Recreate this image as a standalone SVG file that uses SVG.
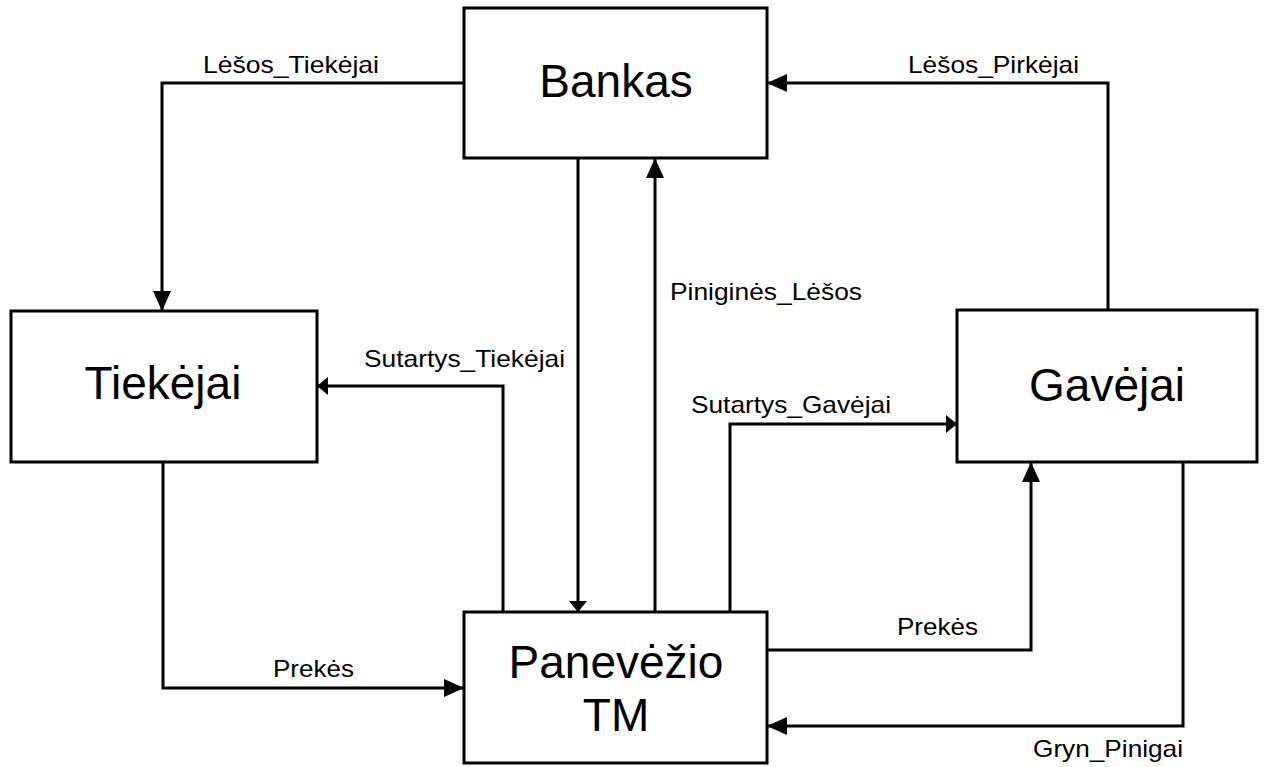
<svg xmlns="http://www.w3.org/2000/svg" width="1268" height="767" viewBox="0 0 1268 767">
  <style>
    .box { fill: #ffffff; stroke: #000000; stroke-width: 3; }
    .title { font-family: "Liberation Sans", Arial, sans-serif; font-size: 46px; fill: #000000; text-anchor: middle; }
    .flow { fill: none; stroke: #000000; stroke-width: 3; stroke-linejoin: miter; }
    .big { marker-end: url(#arrowBig); }
    .small { marker-end: url(#arrowSmall); }
    .label { font-family: "Liberation Sans", Arial, sans-serif; font-size: 24px; fill: #000000; }
  </style>
  <defs>
    <marker id="arrowBig" viewBox="0 0 20 18" refX="20" refY="9" markerWidth="20" markerHeight="18" markerUnits="userSpaceOnUse" orient="auto">
      <path d="M0,0 L20,9 L0,18 Z" fill="#000000"/>
    </marker>
    <marker id="arrowSmall" viewBox="0 0 11 18" refX="11" refY="9" markerWidth="11" markerHeight="18" markerUnits="userSpaceOnUse" orient="auto">
      <path d="M0,0 L11,9 L0,18 Z" fill="#000000"/>
    </marker>
  </defs>
  <rect width="1268" height="767" fill="#ffffff"/>

  <!-- connectors -->
  <g id="connectors">
    <path class="flow big" d="M464,83 H162 V311"/>
    <path class="flow big" d="M1108,310 V83 H767"/>
    <path class="flow small" d="M578,158 V612"/>
    <path class="flow big" d="M655,612 V158"/>
    <path class="flow small" d="M503,612 V386 H317"/>
    <path class="flow small" d="M730,612 V424 H957"/>
    <path class="flow big" d="M163,462 V688 H464"/>
    <path class="flow big" d="M767,650 H1031 V462"/>
    <path class="flow big" d="M1183,462 V726 H767"/>

    <text class="label" x="203" y="73" textLength="176" lengthAdjust="spacingAndGlyphs">Lėšos_Tiekėjai</text>
    <text class="label" x="908" y="73" textLength="171" lengthAdjust="spacingAndGlyphs">Lėšos_Pirkėjai</text>
    <text class="label" x="670" y="300" textLength="192" lengthAdjust="spacingAndGlyphs">Piniginės_Lėšos</text>
    <text class="label" x="364" y="367" textLength="201" lengthAdjust="spacingAndGlyphs">Sutartys_Tiekėjai</text>
    <text class="label" x="691" y="413" textLength="200" lengthAdjust="spacingAndGlyphs">Sutartys_Gavėjai</text>
    <text class="label" x="273" y="677" textLength="81" lengthAdjust="spacingAndGlyphs">Prekės</text>
    <text class="label" x="897" y="635" textLength="81" lengthAdjust="spacingAndGlyphs">Prekės</text>
    <text class="label" x="1033" y="757" textLength="150" lengthAdjust="spacingAndGlyphs">Gryn_Pinigai</text>
  </g>

  <!-- nodes -->
  <g id="bankas">
    <rect class="box" x="464" y="8" width="303" height="150"/>
    <text class="title" x="616" y="97">Bankas</text>
  </g>
  <g id="tiekejai">
    <rect class="box" x="11" y="311" width="306" height="151"/>
    <text class="title" x="163" y="399">Tiekėjai</text>
  </g>
  <g id="gavejai">
    <rect class="box" x="957" y="310" width="300" height="152"/>
    <text class="title" x="1107" y="401">Gavėjai</text>
  </g>
  <g id="panevezio-tm">
    <rect class="box" x="464" y="612" width="303" height="151"/>
    <text class="title" x="616" y="678">Panevėžio</text>
    <text class="title" x="616" y="731">TM</text>
  </g>
</svg>
